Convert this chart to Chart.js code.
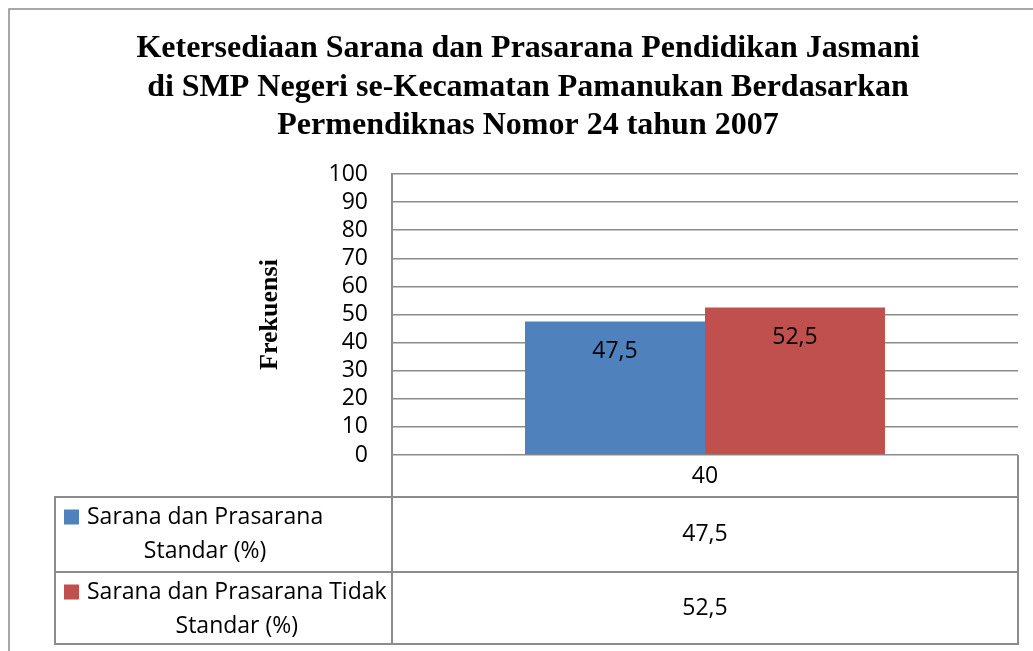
<!DOCTYPE html>
<html>
<head>
<meta charset="utf-8">
<title>Ketersediaan Sarana dan Prasarana</title>
<script src="https://cdn.jsdelivr.net/npm/chart.js@4"></script>
<style>
    body { margin: 0; background: #fff; }
    #chart { display: block; }
</style>
</head>
<body>
<canvas id="chart" width="1033" height="651"></canvas>
<script>
// Chart data
const categories = ['40'];
const standarValues = [47.5];
const tidakStandarValues = [52.5];
const seriesLabels = [
    ['Sarana dan Prasarana', 'Standar (%)'],
    ['Sarana dan Prasarana Tidak', 'Standar (%)']
];
const titleLines = [
    'Ketersediaan Sarana dan Prasarana Pendidikan Jasmani',
    'di SMP Negeri se-Kecamatan Pamanukan Berdasarkan',
    'Permendiknas Nomor 24 tahun 2007'
];
const yAxisTitle = 'Frekuensi';
const yMin = 0;
const yMax = 100;
const yStep = 10;

const blue = '#4F81BD';
const red = '#C0504D';
const lineGray = '#8c8c8c';
const bodyFont = '"Open Sans", "Noto Sans", sans-serif';
const serifFont = '"Liberation Serif", "Times New Roman", serif';

function fmt(v) {
    return String(v).replace('.', ',');
}

// Title, axis title, outer frame
const decorPlugin = {
    id: 'decor',
    beforeDraw(chart) {
        const ctx = chart.ctx;
        ctx.save();
        ctx.fillStyle = '#fff';
        ctx.fillRect(0, 0, chart.width, chart.height);
        ctx.strokeStyle = lineGray;
        ctx.lineWidth = 1.5;
        ctx.strokeRect(9, 9, chart.width + 20, chart.height + 20);
        ctx.restore();
    },
    afterDraw(chart) {
        const ctx = chart.ctx;
        const area = chart.chartArea;
        ctx.save();
        ctx.fillStyle = '#000';
        ctx.textAlign = 'center';
        ctx.textBaseline = 'middle';
        ctx.font = 'bold 32px ' + serifFont;
        titleLines.forEach((line, i) => {
            ctx.fillText(line, 528, 49 + i * 38.5);
        });

        ctx.font = 'bold 26px ' + serifFont;
        ctx.translate(270, (area.top + area.bottom) / 2);
        ctx.rotate(-Math.PI / 2);
        ctx.fillText(yAxisTitle, 0, 0);
        ctx.restore();
    }
};

// Value labels inside the bars
const barLabelPlugin = {
    id: 'barLabels',
    afterDatasetsDraw(chart) {
        const ctx = chart.ctx;
        ctx.save();
        ctx.fillStyle = '#000';
        ctx.font = '23px ' + bodyFont;
        ctx.textAlign = 'center';
        ctx.textBaseline = 'middle';
        chart.data.datasets.forEach((ds, di) => {
            chart.getDatasetMeta(di).data.forEach((bar, i) => {
                ctx.fillText(fmt(ds.data[i]), bar.x, bar.y + 30);
            });
        });
        ctx.restore();
    }
};

// Data table under the plot
const dataTablePlugin = {
    id: 'dataTable',
    afterDraw(chart) {
        const ctx = chart.ctx;
        const area = chart.chartArea;
        const xScale = chart.scales.x;
        const tableLeft = 55;
        const headerBottom = area.bottom + 42;
        const rowHeights = [75, 72];

        ctx.save();
        ctx.strokeStyle = lineGray;
        ctx.lineWidth = 2;

        // header row with category labels
        ctx.beginPath();
        ctx.moveTo(area.left, area.bottom);
        ctx.lineTo(area.left, headerBottom);
        ctx.moveTo(area.right, area.bottom);
        ctx.lineTo(area.right, headerBottom);
        ctx.stroke();

        ctx.fillStyle = '#000';
        ctx.font = '23px ' + bodyFont;
        ctx.textAlign = 'center';
        ctx.textBaseline = 'middle';
        categories.forEach((c, i) => {
            ctx.fillText(c, xScale.getPixelForValue(i), (area.bottom + headerBottom) / 2);
        });

        // series rows
        let top = headerBottom;
        chart.data.datasets.forEach((ds, di) => {
            const bottom = top + rowHeights[di];
            ctx.strokeRect(tableLeft, top, area.right - tableLeft, rowHeights[di]);
            ctx.beginPath();
            ctx.moveTo(area.left, top);
            ctx.lineTo(area.left, bottom);
            ctx.stroke();

            // legend key
            const line1Y = top + 20;
            ctx.fillStyle = ds.backgroundColor;
            ctx.fillRect(64, line1Y - 7.5, 15, 15);

            // wrapped series name, lines centred on each other
            ctx.fillStyle = '#000';
            ctx.font = '23px ' + bodyFont;
            const lines = seriesLabels[di];
            const widest = Math.max(...lines.map(l => ctx.measureText(l).width));
            const textCenter = 87 + widest / 2;
            lines.forEach((l, li) => {
                ctx.fillText(l, textCenter, line1Y + li * 34);
            });

            // values
            categories.forEach((c, i) => {
                ctx.fillText(fmt(ds.data[i]), xScale.getPixelForValue(i), (top + bottom) / 2);
            });
            top = bottom;
        });
        ctx.restore();
    }
};

const ctx = document.getElementById('chart').getContext('2d');
new Chart(ctx, {
    type: 'bar',
    data: {
        labels: categories,
        datasets: [
            {
                label: seriesLabels[0].join(' '),
                data: standarValues,
                backgroundColor: blue,
                categoryPercentage: 0.575,
                barPercentage: 1
            },
            {
                label: seriesLabels[1].join(' '),
                data: tidakStandarValues,
                backgroundColor: red,
                categoryPercentage: 0.575,
                barPercentage: 1
            }
        ]
    },
    options: {
        responsive: false,
        animation: false,
        layout: {
            padding: { top: 174, right: 15, bottom: 196, left: 0 }
        },
        plugins: {
            legend: { display: false },
            title: { display: false },
            tooltip: { enabled: false }
        },
        scales: {
            x: {
                display: false
            },
            y: {
                min: yMin,
                max: yMax,
                ticks: {
                    stepSize: yStep,
                    autoSkip: false,
                    color: '#000',
                    padding: 24,
                    font: { family: bodyFont, size: 23 }
                },
                grid: {
                    color: lineGray,
                    lineWidth: 1.5,
                    drawTicks: false
                },
                border: {
                    display: true,
                    color: lineGray,
                    width: 2
                },
                afterFit(scale) {
                    scale.width = 392;
                }
            }
        }
    },
    plugins: [decorPlugin, barLabelPlugin, dataTablePlugin]
});
</script>
</body>
</html>
